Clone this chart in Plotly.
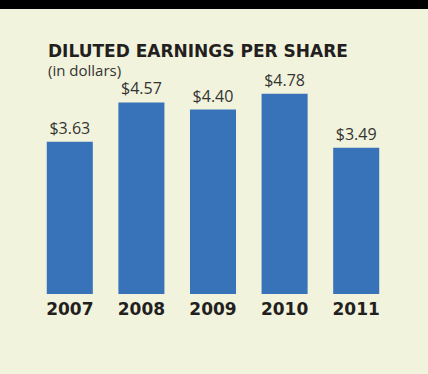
import plotly.graph_objects as go

years = ["2007", "2008", "2009", "2010", "2011"]
eps = [3.63, 4.57, 4.40, 4.78, 3.49]
value_labels = ["$3.63", "$4.57", "$4.40", "$4.78", "$3.49"]

BG = "#f2f3dc"
BAR = "#3872b9"
INK = "#231f20"

fig = go.Figure(go.Bar(
    x=years, y=eps, text=value_labels, textposition="outside",
    textfont=dict(family="Open Sans", size=16, color="#333333"),
    marker=dict(color=BAR, line=dict(width=0)),
    cliponaxis=False, hoverinfo="skip",
))

fig.update_layout(
    width=428, height=374,
    margin=dict(l=34, r=36, t=40, b=80),
    paper_bgcolor=BG, plot_bgcolor=BG,
    bargap=0.357, showlegend=False,
    xaxis=dict(showgrid=False, showline=False, zeroline=False, ticks="",
               ticklabelstandoff=3,
               tickfont=dict(family="DejaVu Sans", size=17, color=INK, weight="bold")),
    yaxis=dict(range=[0, 6.06], visible=False),
    shapes=[dict(type="rect", xref="paper", yref="paper", x0=-0.2, x1=1.2,
                 y0=1.122, y1=1.2, fillcolor="#000000", line=dict(width=0), layer="above")],
    annotations=[
        dict(text="<b>DILUTED EARNINGS PER SHARE</b>", xref="paper", yref="paper",
             x=0.033, y=0.955, xanchor="left", yanchor="middle", showarrow=False,
             font=dict(family="DejaVu Sans", size=17, color=INK)),
        dict(text="(in dollars)", xref="paper", yref="paper",
             x=0.033, y=0.882, xanchor="left", yanchor="middle", showarrow=False,
             font=dict(family="Open Sans", size=15, color="#333333")),
    ],
)

fig.write_html("out.html")
